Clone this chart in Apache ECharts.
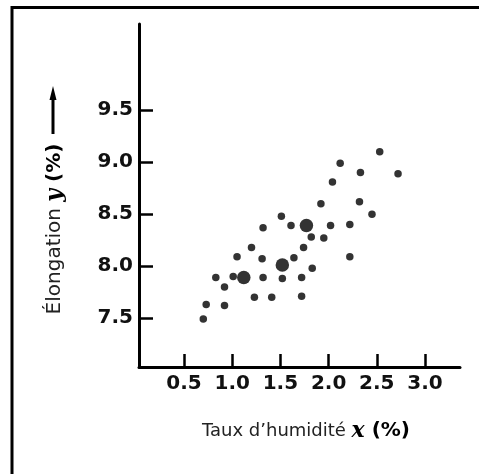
<!DOCTYPE html>
<html>
<head>
<meta charset="utf-8">
<script src="https://cdn.jsdelivr.net/npm/echarts@6/dist/echarts.min.js"></script>
<style>
html,body{margin:0;padding:0;background:#fff;}
#c{width:479px;height:474px;}
</style>
</head>
<body>
<div id="c"></div>
<script>
// Tick labels
var xTicks = [0.5, 1.0, 1.5, 2.0, 2.5, 3.0];
var yTicks = [7.5, 8.0, 8.5, 9.0, 9.5];

// Small points (individual observations)
var smallX = [0.70, 0.73, 0.92, 0.83, 0.92, 1.01, 1.05, 1.20, 1.32, 1.32, 1.31, 1.23, 1.41, 1.51, 1.61, 1.52, 1.64, 1.72, 1.72, 1.74, 1.82, 1.83, 1.92, 1.95, 2.02, 2.04, 2.12, 2.22, 2.22, 2.32, 2.33, 2.45, 2.53, 2.72];
var smallY = [7.49, 7.63, 7.62, 7.89, 7.80, 7.90, 8.09, 8.18, 8.37, 7.89, 8.07, 7.70, 7.70, 8.48, 8.39, 7.88, 8.08, 7.89, 7.71, 8.18, 8.28, 7.98, 8.60, 8.27, 8.39, 8.81, 8.99, 8.40, 8.09, 8.62, 8.90, 8.50, 9.10, 8.89];

// Large points (group means)
var bigX = [1.12, 1.52, 1.77];
var bigY = [7.89, 8.01, 8.39];

function pairs(xs, ys) { return xs.map(function (v, i) { return [v, ys[i]]; }); }

var chart = echarts.init(document.getElementById('c'), null, {renderer: 'canvas'});
var ink = '#000';
chart.setOption({
  animation: false,
  backgroundColor: '#fff',
  grid: {left: 139, right: 19, top: 24, bottom: 107, containLabel: false},
  xAxis: {
    type: 'value', min: 0.033, max: 3.363,
    axisLine: {show: true, onZero: false, lineStyle: {color: ink, width: 3}},
    axisTick: {show: true, inside: true, length: 13, customValues: xTicks, lineStyle: {color: ink, width: 2.5}},
    axisLabel: {customValues: xTicks, color: '#111', fontFamily: 'DejaVu Sans', fontWeight: 'bold', fontSize: 20, margin: 7,
      formatter: function (v) { return v.toFixed(1); }},
    splitLine: {show: false}
  },
  yAxis: {
    type: 'value', min: 7.029, max: 10.33,
    axisLine: {show: true, onZero: false, lineStyle: {color: ink, width: 3}},
    axisTick: {show: true, inside: true, length: 14, customValues: yTicks, lineStyle: {color: ink, width: 2.5}},
    axisLabel: {customValues: yTicks, color: '#111', fontFamily: 'DejaVu Sans', fontWeight: 'bold', fontSize: 20, margin: 6,
      formatter: function (v) { return v.toFixed(1); }},
    splitLine: {show: false}
  },
  series: [
    {type: 'scatter', data: pairs(smallX, smallY), symbol: 'circle', symbolSize: 7.5, itemStyle: {color: ink}},
    {type: 'scatter', data: pairs(bigX, bigY), symbol: 'circle', symbolSize: 13.5, itemStyle: {color: ink}}
  ],
  graphic: [
    {type: 'line', shape: {x1: 12, y1: 7.5, x2: 479, y2: 7.5}, style: {stroke: ink, lineWidth: 3}},
    {type: 'line', shape: {x1: 12, y1: 6, x2: 12, y2: 474}, style: {stroke: ink, lineWidth: 3}},
    {type: 'line', shape: {x1: 53, y1: 97, x2: 53, y2: 134}, style: {stroke: ink, lineWidth: 3}},
    {type: 'polygon', shape: {points: [[53, 86], [49.5, 100], [56.5, 100]]}, style: {fill: ink}},
    {
      type: 'text', x: 55, y: 229, rotation: Math.PI / 2,
      style: {
        text: '{a|Élongation }{b|y}{c| (%)}',
        align: 'center', verticalAlign: 'middle',
        rich: {
          a: {fontFamily: 'DejaVu Sans', fontSize: 20, fill: '#222'},
          b: {fontFamily: 'DejaVu Serif', fontSize: 22, fontWeight: 'bold', fontStyle: 'italic', fill: ink},
          c: {fontFamily: 'DejaVu Sans', fontSize: 20, fontWeight: 'bold', fill: ink}
        }
      }
    },
    {
      type: 'text', x: 306, y: 431,
      style: {
        text: '{a|Taux d\u2019humidité }{b|x}{c| (%)}',
        align: 'center', verticalAlign: 'middle',
        rich: {
          a: {fontFamily: 'DejaVu Sans', fontSize: 18, fill: '#222'},
          b: {fontFamily: 'DejaVu Serif', fontSize: 22, fontWeight: 'bold', fontStyle: 'italic', fill: ink},
          c: {fontFamily: 'DejaVu Sans', fontSize: 20, fontWeight: 'bold', fill: ink}
        }
      }
    }
  ]
});
</script>
</body>
</html>
